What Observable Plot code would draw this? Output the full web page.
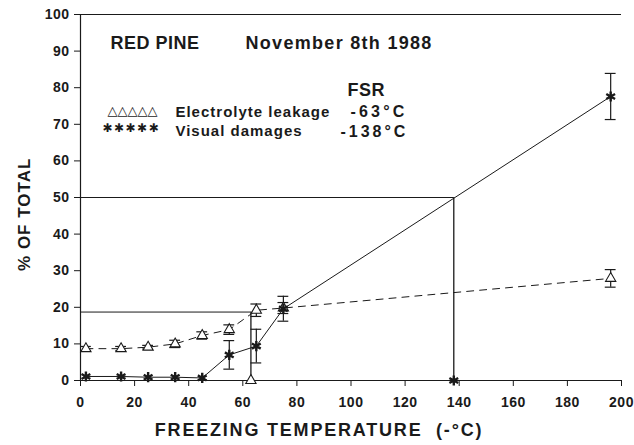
<!DOCTYPE html>
<html>
<head>
<meta charset="utf-8">
<script src="https://cdn.jsdelivr.net/npm/d3@7"></script>
<script src="https://cdn.jsdelivr.net/npm/@observablehq/plot@0.6"></script>
<style>
  html, body { margin: 0; padding: 0; background: #fff; }
  #chart { width: 634px; height: 445px; overflow: hidden; }
  #chart svg { font-family: "Liberation Sans", Arial, Helvetica, sans-serif; }
  #chart svg text { font-weight: 700 !important; letter-spacing: 0.5px; }
</style>
</head>
<body>
<div id="chart"></div>
<script>
// Freezing temperatures (-°C)
const temps = [2, 15, 25, 35, 45, 55, 65, 75, 196];
// Electrolyte leakage (% of total) and error half-widths
const leakage = [8.7, 8.7, 9.1, 10.0, 12.3, 13.9, 19.2, 19.8, 27.9];
const leakageErr = [0.6, 0.6, 0.5, 1.0, 1.0, 1.3, 1.7, 1.5, 2.4];
// Visual damages (% of total) and error half-widths
const damage = [1.1, 1.1, 0.9, 0.9, 0.7, 7.0, 9.4, 19.6, 77.6];
const damageErr = [0, 0, 0, 0, 0, 3.9, 4.6, 3.4, 6.3];
// FSR read on the chart: temperature and level
const fsrTemps = [63, 138];
const fsrLevels = [18.7, 50];
const fsrSeries = ["leak", "damage"];
// Axis ticks
const xTicks = [0, 20, 40, 60, 80, 100, 120, 140, 160, 180, 200];
const yTicks = [0, 10, 20, 30, 40, 50, 60, 70, 80, 90, 100];

const leakRows = temps.map((t, i) => ({t, v: leakage[i], e: leakageErr[i]}));
const dmgRows = temps.map((t, i) => ({t, v: damage[i], e: damageErr[i]}));
const errRows = leakRows.concat(dmgRows).filter(d => d.e > 0);
const fsrRows = fsrTemps.map((t, i) => ({t, v: fsrLevels[i], s: fsrSeries[i]}));

const ink = "#1a1a1a";
const txt = (s, o) => Plot.text([s], {text: d => d, textAnchor: "start", lineAnchor: "middle", fontWeight: "bold", fill: ink, ...o});

const chart = Plot.plot({
  width: 634,
  height: 445,
  marginLeft: 80,
  marginRight: 13,
  marginTop: 14,
  marginBottom: 65,
  style: {fontFamily: "'Liberation Sans', Arial, sans-serif", fontSize: "14px", color: ink, background: "#fff", overflow: "visible"},
  x: {domain: [0, 200], ticks: xTicks, tickSize: 6, tickPadding: 11, label: null, line: false},
  y: {domain: [0, 100], ticks: yTicks, tickSize: 6, tickPadding: 5, label: null, line: false},
  marks: [
    // frame lines
    Plot.ruleX([0], {stroke: ink, strokeWidth: 1.2}),
    Plot.ruleY([0], {stroke: ink, strokeWidth: 1.2}),
    Plot.ruleY([100], {stroke: ink, strokeWidth: 1}),
    // FSR guide lines
    Plot.ruleY(fsrRows, {y: "v", x1: 0, x2: "t", stroke: ink, strokeWidth: 1}),
    Plot.ruleX(fsrRows, {x: "t", y1: 0, y2: "v", stroke: ink, strokeWidth: 1.3}),
    // series lines
    Plot.line(leakRows, {x: "t", y: "v", stroke: ink, strokeWidth: 1, strokeDasharray: "7,6"}),
    Plot.line(dmgRows, {x: "t", y: "v", stroke: ink, strokeWidth: 1}),
    // error bars
    Plot.ruleX(errRows, {x: "t", y1: d => d.v - d.e, y2: d => d.v + d.e, stroke: ink, strokeWidth: 1.2}),
    Plot.ruleY(errRows, {y: d => d.v - d.e, x1: d => d.t - 2, x2: d => d.t + 2, stroke: ink, strokeWidth: 1.2}),
    Plot.ruleY(errRows, {y: d => d.v + d.e, x1: d => d.t - 2, x2: d => d.t + 2, stroke: ink, strokeWidth: 1.2}),
    // markers
    Plot.dot(leakRows, {x: "t", y: "v", symbol: "triangle", r: 3.8, fill: "white", stroke: ink, strokeWidth: 1.1}),
    Plot.dot(dmgRows, {x: "t", y: "v", symbol: "asterisk", r: 4.8, stroke: ink, strokeWidth: 2.4}),
    Plot.dot(fsrRows.filter(d => d.s === "leak"), {x: "t", y: 0, symbol: "triangle", r: 3.8, fill: "white", stroke: ink, strokeWidth: 1.1}),
    Plot.dot(fsrRows.filter(d => d.s === "damage"), {x: "t", y: 0, symbol: "asterisk", r: 4.8, stroke: ink, strokeWidth: 2.4}),
    // annotations
    txt("RED PINE", {x: 11.1, y: 92.1, fontSize: 18}),
    txt("November 8th 1988", {x: 61, y: 92.1, fontSize: 18}),
    txt("FSR", {x: 98.7, y: 79.2, fontSize: 18}),
    txt("-63°C", {x: 99.8, y: 73.4, fontSize: 16}),
    txt("-138°C", {x: 96.1, y: 67.9, fontSize: 16}),
    txt("△△△△△", {x: 10, y: 73.8, fontSize: 13, fontFamily: "DejaVu Sans"}),
    txt("✱✱✱✱✱", {x: 8.1, y: 68.9, fontSize: 12, fontFamily: "DejaVu Sans"}),
    txt("Electrolyte leakage", {x: 35.1, y: 73.2, fontSize: 15}),
    txt("Visual damages", {x: 35.1, y: 68.0, fontSize: 15}),
    // axis titles
    txt("FREEZING TEMPERATURE  (-°C)", {frameAnchor: "bottom", textAnchor: "middle", dx: -32, dy: 50, fontSize: 18}),
    txt("% OF TOTAL", {frameAnchor: "left", y: 45.4, textAnchor: "middle", rotate: -90, dx: -56, fontSize: 17})
  ]
});

document.getElementById("chart").appendChild(chart);

// letter spacing tweaks to match the wide lettering of the original
const spacing = {
  "RED PINE": 0.5,
  "November 8th 1988": 1.3,
  "-63°C": 3.2,
  "-138°C": 3.0,
  "Electrolyte leakage": 1,
  "Visual damages": 1,
  "△△△△△": 0,
  "✱✱✱✱✱": 1.5,
  "FREEZING TEMPERATURE  (-°C)": 1.8,
  "% OF TOTAL": 1
};
d3.select(chart).selectAll("text").each(function() {
  const t = this.textContent.trim();
  if (spacing[t] != null) this.style.letterSpacing = spacing[t] + "px";
});
</script>
</body>
</html>
